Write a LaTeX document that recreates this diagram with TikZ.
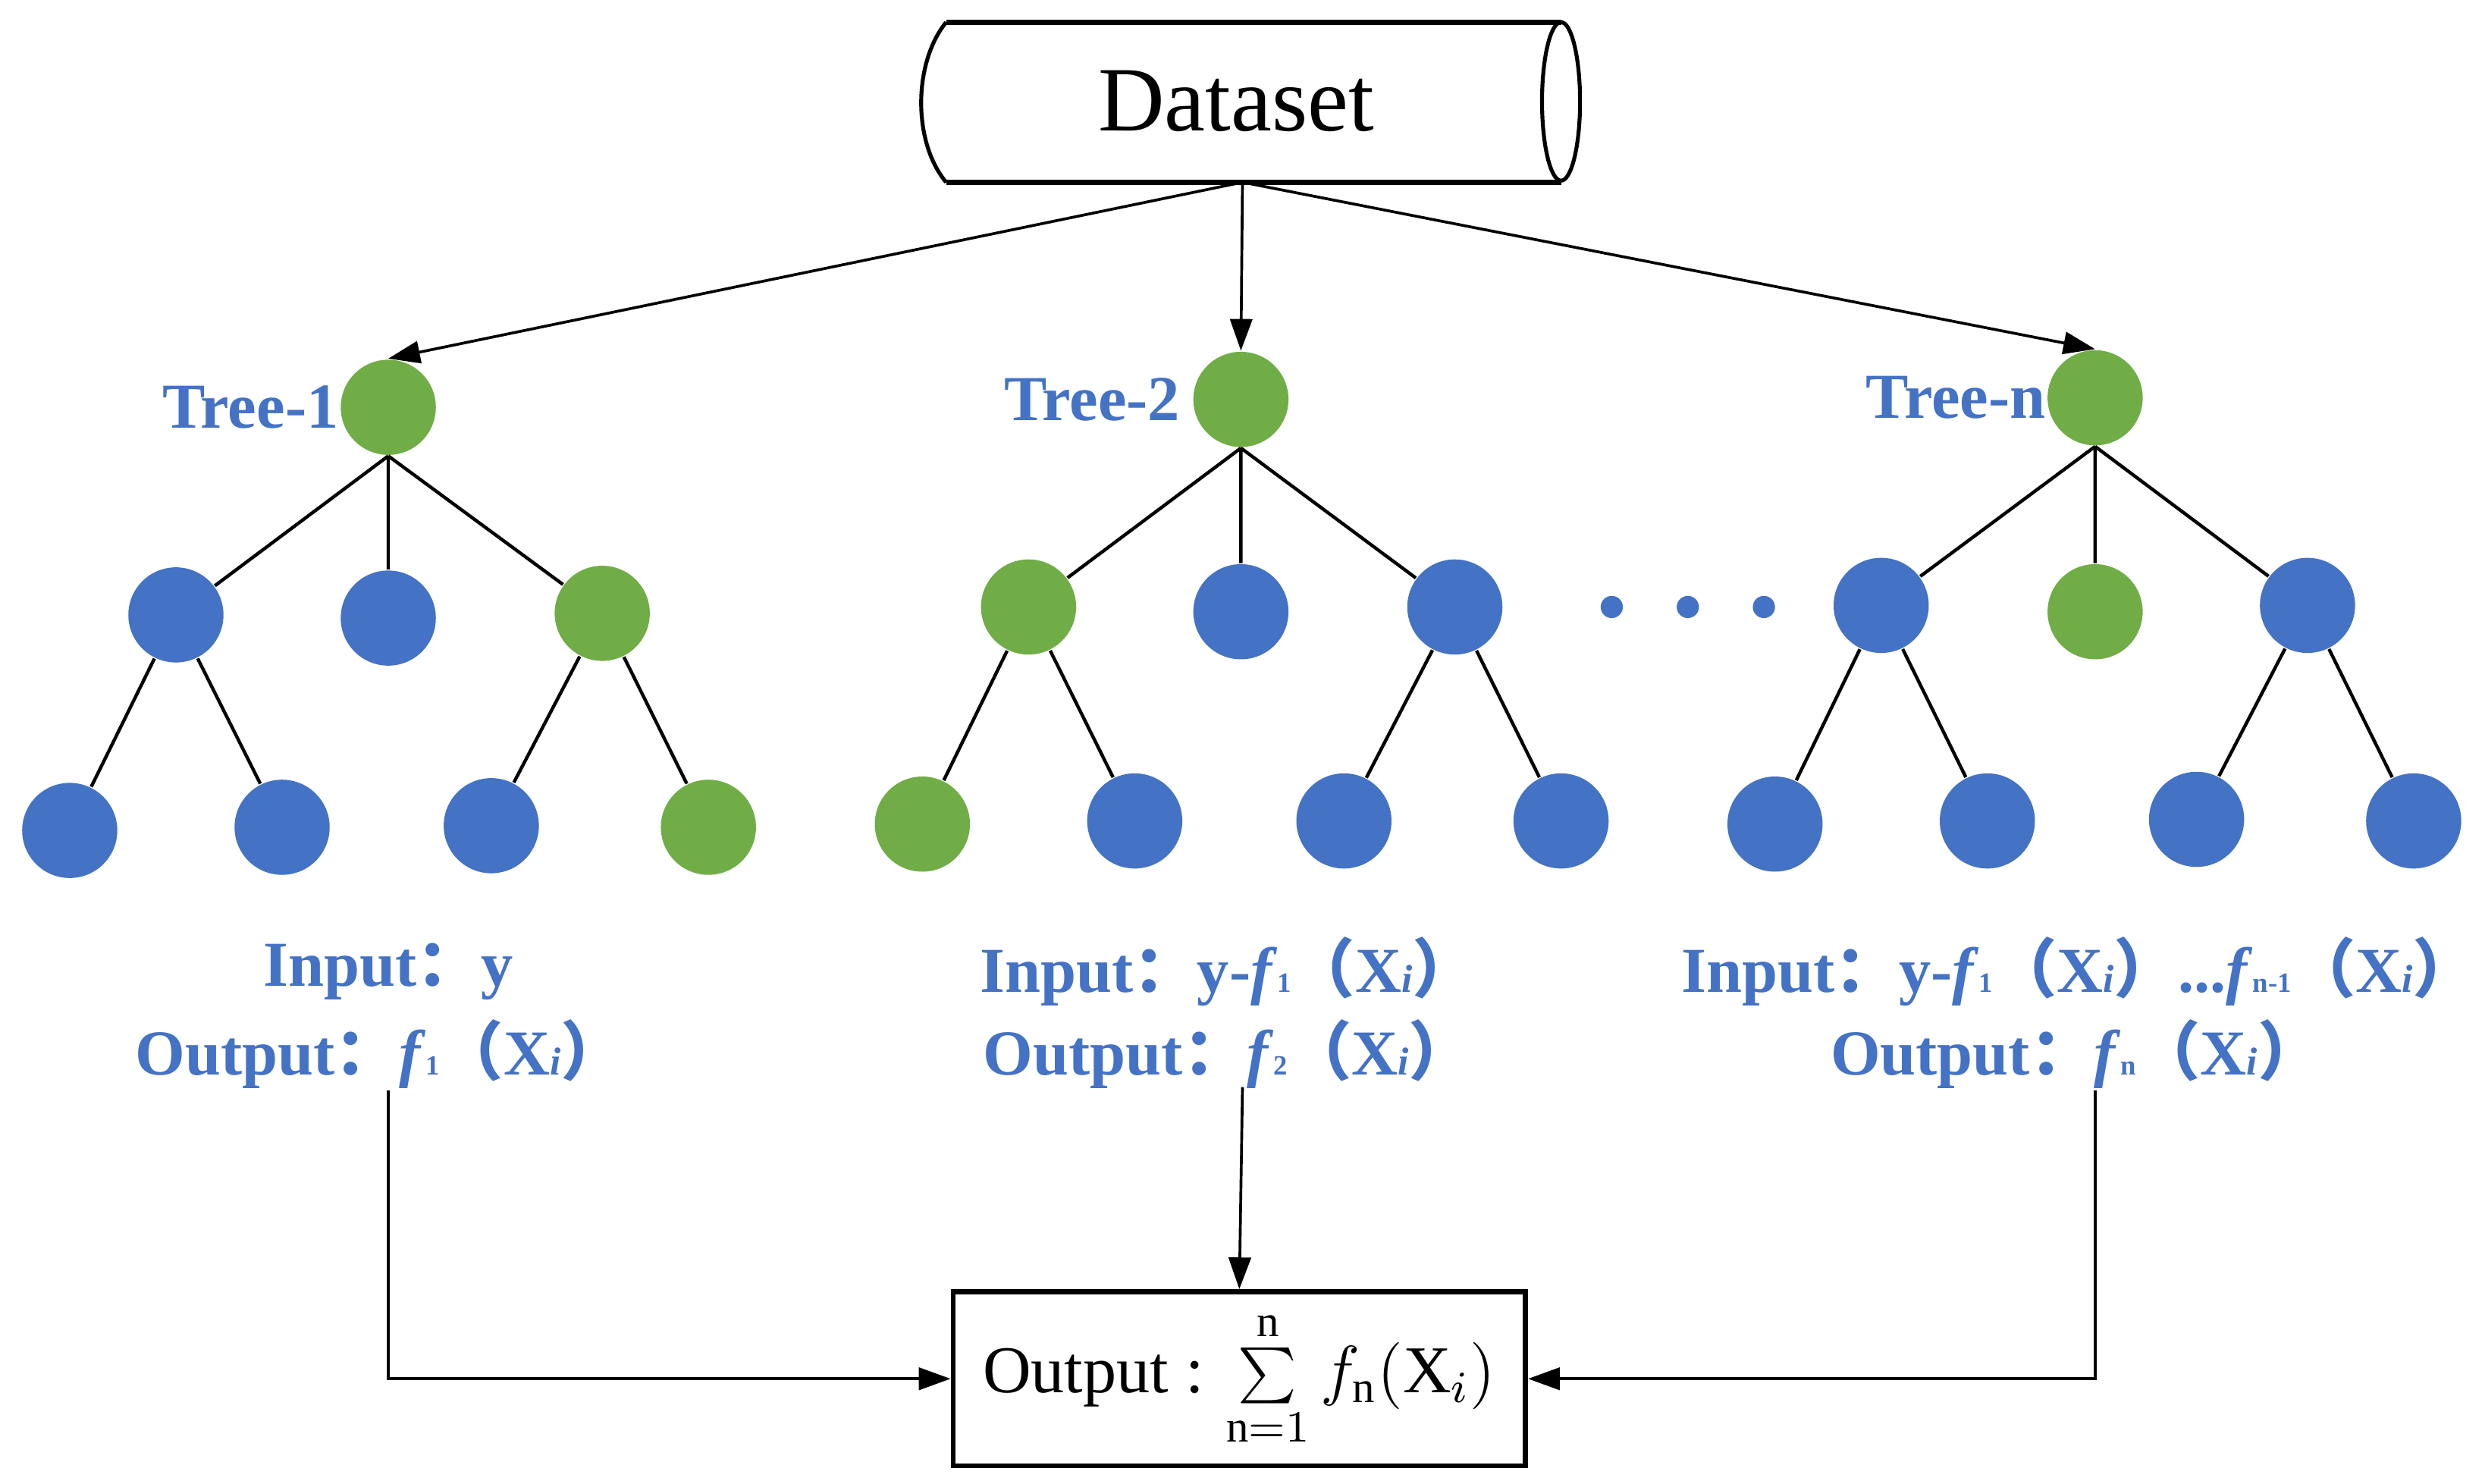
\documentclass[tikz,border=0pt]{standalone}
\usepackage{fontspec}
\setmainfont{Liberation Serif}
\newfontfamily\cjk{Noto Sans CJK SC}
\usetikzlibrary{arrows.meta}
\definecolor{tblue}{HTML}{4472C4}
\definecolor{tgreen}{HTML}{70AD47}
\newcommand{\fcolon}{{\cjk\bfseries ：}}
\newcommand{\lpar}{{\cjk（}}
\newcommand{\rpar}{{\cjk）}}
\newcommand{\fsub}[1]{\textit{f}{\fontsize{5}{5}\selectfont\bfseries #1}}
\newcommand{\Xsub}{X{\fontsize{7}{7}\selectfont\itshape i}}
\tikzset{
  bn/.style={circle,fill=tblue,minimum size=0.6cm,inner sep=0pt},
  gn/.style={circle,fill=tgreen,minimum size=0.6cm,inner sep=0pt},
  lab/.style={text=tblue,font=\fontsize{11.5}{14}\selectfont\bfseries},
  arr/.style={-{Triangle[length=0.2cm,width=0.14cm]},line width=0.5pt},
  edge/.style={line width=0.6pt}
}
\begin{document}
\begin{tikzpicture}[x=0.01cm,y=-0.01cm]
                \useasboundingbox (0,0) rectangle (1568,936);
                % dataset drum
                \draw[line width=0.9pt] (597,14) -- (985,14) (597,115) -- (985,115);
                \draw[line width=0.7pt] (597,14) .. controls (576,40) and (576,90) .. (597,115);
                \draw[line width=0.7pt] (985,64) ellipse (12 and 50);
                \node[font=\fontsize{16.5}{18}\selectfont] (ds) at (780,64) {Dataset};
                \coordinate (dsb) at (784,115);
                % tree 1
                \node[gn] (a0) at (245,257) {};
                \node[bn] (a1) at (111,388) {};
                \node[bn] (a2) at (245,390) {};
                \node[gn] (a3) at (380,387) {};
                \node[bn] (a4) at (44,524) {};
                \node[bn] (a5) at (178,522) {};
                \node[bn] (a6) at (310,521) {};
                \node[gn] (a7) at (447,522) {};
                \node[lab,anchor=east,inner sep=0pt] (ta) at (a0.west) {Tree-1};
                % tree 2
                \node[gn] (b0) at (783,252) {};
                \node[gn] (b1) at (649,383) {};
                \node[bn] (b2) at (783,386) {};
                \node[bn] (b3) at (918,383) {};
                \node[gn] (b4) at (582,520) {};
                \node[bn] (b5) at (716,518) {};
                \node[bn] (b6) at (848,518) {};
                \node[bn] (b7) at (985,518) {};
                \node[lab,anchor=east,inner sep=2pt] (tb) at (b0.west) {Tree-2};
                % tree n
                \node[gn] (c0) at (1322,251) {};
                \node[bn] (c1) at (1187,382) {};
                \node[gn] (c2) at (1322,386) {};
                \node[bn] (c3) at (1456,382) {};
                \node[bn] (c4) at (1120,520) {};
                \node[bn] (c5) at (1254,518) {};
                \node[bn] (c6) at (1386,517) {};
                \node[bn] (c7) at (1523,518) {};
                \node[lab,anchor=east,inner sep=0pt] (tc) at (c0.west) {Tree-n};
                % dots
                \fill[tblue] (1017,383) circle (7) (1065,383) circle (7) (1113,383) circle (7);
                % edges
                \draw[edge] (a0.south) -- (a1) (a0) -- (a2) (a0.south) -- (a3) (a1) -- (a4) (a1) -- (a5) (a3) -- (a6) (a3) -- (a7);
                \draw[edge] (b0.south) -- (b1) (b0) -- (b2) (b0.south) -- (b3) (b1) -- (b4) (b1) -- (b5) (b3) -- (b6) (b3) -- (b7);
                \draw[edge] (c0.south) -- (c1) (c0) -- (c2) (c0.south) -- (c3) (c1) -- (c4) (c1) -- (c5) (c3) -- (c6) (c3) -- (c7);
                \draw[arr] (dsb) -- (a0.north);
                \draw[arr] (dsb) -- (b0.north);
                \draw[arr] (dsb) -- (c0.north);
                % input / output labels
                \node[lab] (ia) at (245,613) {Input\fcolon y};
                \node[lab] (oa) at (240,665) {Output\fcolon\fsub{1}\lpar\Xsub\rpar};
                \node[lab] (ib) at (775,613) {Input\fcolon y-\fsub{1}\lpar\Xsub\rpar};
                \node[lab] (ob) at (775,665) {Output\fcolon\fsub{2}\lpar\Xsub\rpar};
                \node[lab] (ic) at (1312,613) {Input\fcolon y-\fsub{1}\lpar\Xsub\rpar...\fsub{n-1}\lpar\Xsub\rpar};
                \node[lab] (oc) at (1310,665) {Output\fcolon\fsub{n}\lpar\Xsub\rpar};
                % result box
                \node[draw,line width=0.9pt,minimum width=3.61cm,minimum height=1.01cm,font=\fontsize{12}{13}\selectfont] (out) at (782,870)
                  {Output : $\sum\limits_{\mathrm{n}=1}^{\mathrm{n}} f_{\mathrm{n}}(\mathrm{X}_i)$};
                \coordinate (pa) at (245,688);
                \coordinate (pb) at (784,686);
                \coordinate (pc) at (1322,688);
                \draw[arr] (pa) |- (out.west);
                \draw[arr] (pb) -- (out.north);
                \draw[arr] (pc) |- (out.east);
\end{tikzpicture}
\end{document}
